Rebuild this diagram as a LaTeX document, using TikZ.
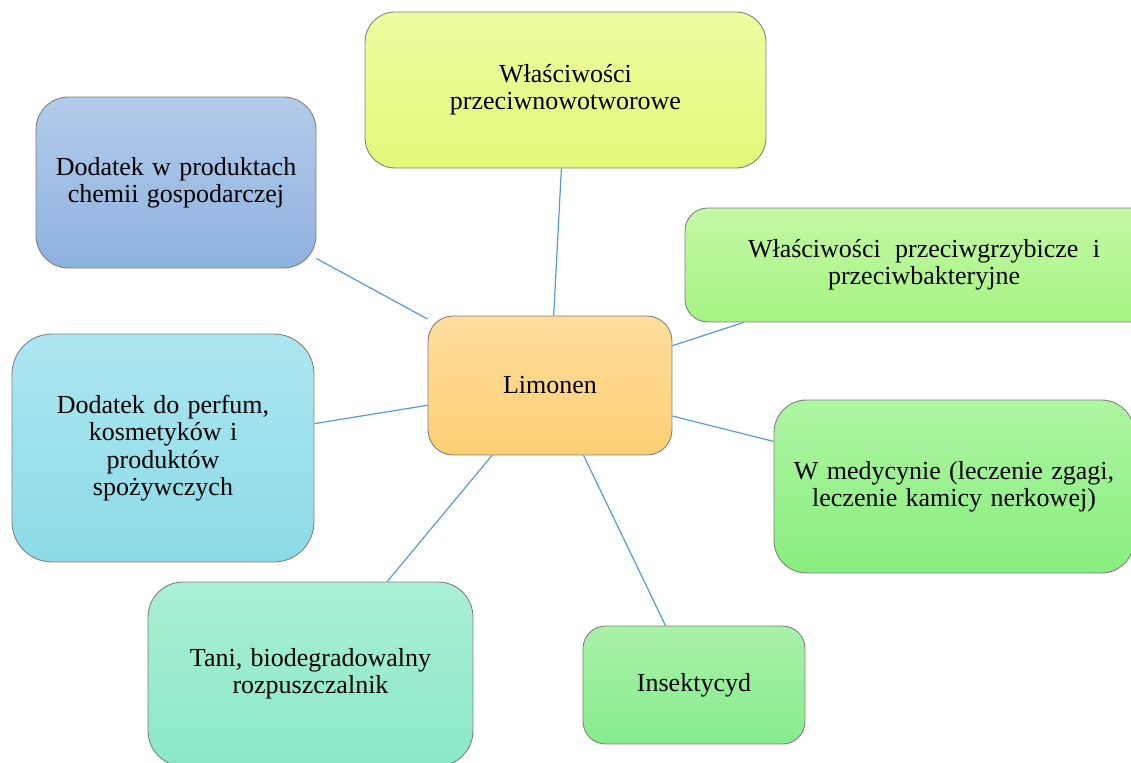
\documentclass[tikz,border=0pt]{standalone}
\usepackage{fontspec}
\setmainfont{Liberation Serif}
\usepackage{tikz}

\definecolor{linkblue}{HTML}{5B9BD5}
\definecolor{rim}{HTML}{7F7F7F}
\protected\def\boxfont{\fontsize{14.8}{15.6}\selectfont\setlength{\spaceskip}{0.32em}}
\protected\def\widesp{\setlength{\spaceskip}{0.55em}}

\begin{document}
\begin{tikzpicture}[x=0.02cm,y=-0.02cm,
  box/.style={rectangle,draw=rim,line width=0.5pt,rounded corners=0.5cm,align=center,
    font=\boxfont,inner sep=0pt},
  link/.style={draw=linkblue,line width=0.7pt}]
\useasboundingbox (0,0) rectangle (1131,763);

\node[box,minimum width=4.88cm,minimum height=2.78cm,top color={rgb,255:red,254;green,221;blue,157},bottom color={rgb,255:red,253;green,207;blue,116}] (lim) at (550,385.5) {Limonen};
\node[box,minimum width=8.02cm,minimum height=3.12cm,rounded corners=0.6cm,top color={rgb,255:red,238;green,252;blue,160},bottom color={rgb,255:red,226;green,249;blue,122}] (anti) at (565.5,90) {Właściwości\\przeciwnowotworowe};
\node[box,minimum width=5.6cm,minimum height=3.42cm,rounded corners=0.65cm,top color={rgb,255:red,179;green,203;blue,234},bottom color={rgb,255:red,142;green,178;blue,223}] (chem) at (176,182.5) {Dodatek w produktach\\chemii gospodarczej};
\node[box,minimum width=9.4cm,minimum height=2.28cm,rounded corners=0.45cm,top color={rgb,255:red,196;green,248;blue,164},bottom color={rgb,255:red,166;green,243;blue,131}] (grzyb) at (920,265) {\hspace{0.16cm}{\widesp Właściwości przeciwgrzybicze i}\\\hspace{0.16cm}przeciwbakteryjne};
\node[box,minimum width=7.2cm,minimum height=3.46cm,rounded corners=0.65cm,top color={rgb,255:red,174;green,245;blue,162},bottom color={rgb,255:red,136;green,238;blue,126}] (med) at (954,486.5) {W medycynie (leczenie zgagi,\\leczenie kamicy nerkowej)};
\node[box,minimum width=6.04cm,minimum height=4.56cm,rounded corners=0.8cm,top color={rgb,255:red,173;green,230;blue,239},bottom color={rgb,255:red,139;green,219;blue,231}] (perf) at (163,448) {Dodatek do perfum,\\kosmetyków i\\produktów\\spożywczych};
\node[box,minimum width=6.5cm,minimum height=3.68cm,rounded corners=0.7cm,top color={rgb,255:red,170;green,239;blue,212},bottom color={rgb,255:red,138;green,232;blue,198}] (rozp) at (310.5,674) {Tani, biodegradowalny\\rozpuszczalnik};
\node[box,minimum width=4.44cm,minimum height=2.36cm,rounded corners=0.45cm,top color={rgb,255:red,169;green,241;blue,169},bottom color={rgb,255:red,134;green,236;blue,140}] (ins) at (694,685) {Insektycyd};

\draw[link] (lim)--(anti);
\draw[link] (lim)--(chem);
\draw[link] (lim)--(grzyb);
\draw[link] (lim)--(med);
\draw[link] (lim)--(perf);
\draw[link] (lim)--(rozp);
\draw[link] (lim)--(ins);
\end{tikzpicture}
\end{document}
